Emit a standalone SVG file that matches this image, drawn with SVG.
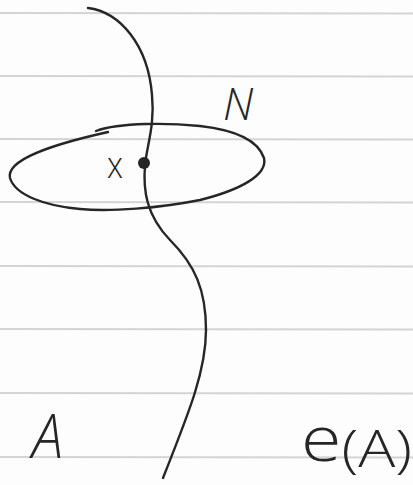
<svg xmlns="http://www.w3.org/2000/svg" width="413" height="485" viewBox="0 0 413 485">
  <style>
    .rule { stroke: #d4d4d4; stroke-width: 2; fill: none; }
    .pen { stroke: #262626; stroke-width: 2.4; fill: none; stroke-linecap: round; stroke-linejoin: round; }
    .hand { font-family: "Open Sans", "Liberation Sans", sans-serif; font-weight: 300; fill: #262626; }
  </style>
  <rect width="413" height="485" fill="#fdfdfd"/>
  <g id="paper-lines">
    <line class="rule" x1="0" y1="13" x2="413" y2="13.5"/>
    <line class="rule" x1="0" y1="76" x2="413" y2="76.5"/>
    <line class="rule" x1="0" y1="139" x2="413" y2="139.5"/>
    <line class="rule" x1="0" y1="202" x2="413" y2="202.5"/>
    <line class="rule" x1="0" y1="266" x2="413" y2="266.5"/>
    <line class="rule" x1="0" y1="329" x2="413" y2="329.5"/>
    <line class="rule" x1="0" y1="393" x2="413" y2="393.5"/>
    <line class="rule" x1="0" y1="457" x2="413" y2="457.5"/>
  </g>
  <g id="neighbourhood-N">
    <path class="pen" d="M96,131 C120,122 170,123 200,126 C235,130 258,140 264,158 C268,175 240,190 200,200 C160,208 110,212 80,209 C45,206 15,195 10,178 C6,160 50,145 108,132"/>
    <text class="hand" x="223" y="120" font-size="44" font-style="italic">N</text>
  </g>
  <g id="curve-A">
    <path class="pen" d="M88,8 C120,12 148,45 152,95 C155,125 147,145 145,165 C143,190 146,215 170,240 C195,265 206,290 206,330 C206,370 190,410 163,478"/>
  </g>
  <g id="point-x">
    <circle cx="144" cy="163" r="6" fill="#262626"/>
    <text class="hand" x="107" y="178" font-size="36" textLength="16" lengthAdjust="spacingAndGlyphs">x</text>
  </g>
  <g id="labels">
    <text class="hand" x="32" y="458" font-size="60" textLength="31" lengthAdjust="spacingAndGlyphs" font-style="italic">A</text>
    <text class="hand" x="301" y="461" textLength="111" lengthAdjust="spacingAndGlyphs"><tspan font-size="62">e</tspan><tspan font-size="52" dy="6">(A)</tspan></text>
  </g>
</svg>
